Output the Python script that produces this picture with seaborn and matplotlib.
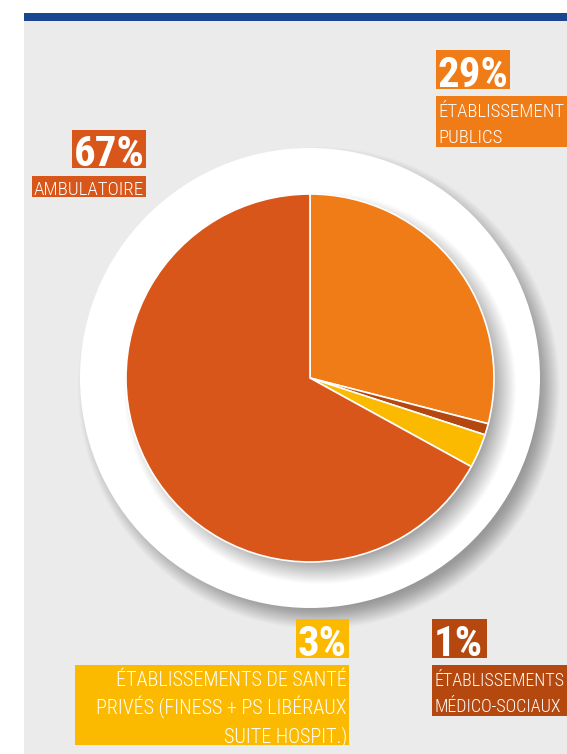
import matplotlib
matplotlib.use("Agg")
import matplotlib.pyplot as plt
from matplotlib.patches import Circle, Rectangle
from matplotlib import font_manager
import seaborn as sns

# Répartition par secteur (en %)
categories = ["Établissements publics", "Établissements médico-sociaux",
              "Établissements de santé privés", "Ambulatoire"]
shares = [29, 1, 3, 67]
pct_labels = ["29%", "1%", "3%", "67%"]
desc_labels = [
    ["ÉTABLISSEMENT", "PUBLICS"],
    ["ÉTABLISSEMENTS", "MÉDICO-SOCIAUX"],
    ["ÉTABLISSEMENTS DE SANTÉ", "PRIVÉS (FINESS + PS LIBÉRAUX", "SUITE HOSPIT.)"],
    ["AMBULATOIRE"],
]
slice_colors = ["#f07c17", "#b5480f", "#fbb900", "#d9561a"]

sns.set_theme(style="white")
palette = sns.color_palette(slice_colors)

available = {f.name for f in font_manager.fontManager.ttflist}
family = "DejaVu Sans"
for cand in ["Roboto Condensed", "Liberation Sans Narrow", "Open Sans Condensed"]:
    if cand in available:
        family = cand
        break
plt.rcParams["font.family"] = [family, "DejaVu Sans"]

W, H = 567, 754
fig = plt.figure(figsize=(W / 100, H / 100), dpi=100)
fig.patch.set_facecolor("white")
ax = fig.add_axes([0, 0, 1, 1])


def Y(yp):
    """Convert a top-down pixel row to the axes' upward coordinate."""
    return H - yp


# panel background and top rule
ax.add_patch(Rectangle((24, 0), W - 24, Y(21), color="#ebebeb", lw=0, zorder=0))
ax.add_patch(Rectangle((24, Y(21)), W - 24, 8, color="#1a4690", lw=0, zorder=1))


def soft_shadow(cx, cy, r, blur, peak, z, n=30):
    a = 1 - (1 - peak) ** (1.0 / n)
    for i in range(n):
        rr = r + blur * (1 - 2.0 * i / n)
        ax.add_patch(Circle((cx, cy), rr, color="black", alpha=a, lw=0, zorder=z))


cx, cy = 310, Y(378)
ring_r, pie_r = 230, 184

# white disc with drop shadow
soft_shadow(cx + 9, cy - 10, ring_r, 11, 0.27, 2)
ax.add_patch(Circle((cx, cy), ring_r, color="white", lw=0, zorder=3))
# shadow cast by the pie onto the ring
soft_shadow(cx + 10, cy - 10, pie_r, 12, 0.26, 4)

wedges, _ = ax.pie(
    shares, colors=palette, startangle=90, counterclock=False,
    center=(cx, cy), radius=pie_r,
    wedgeprops=dict(edgecolor="white", linewidth=1.2),
)
for w in wedges:
    w.set_zorder(5)

ax.set_xlim(0, W)
ax.set_ylim(0, H)
ax.set_aspect("equal")
ax.axis("off")

# font sizes fitted to the label boxes
fig.canvas.draw()
renderer = fig.canvas.get_renderer()


def text_width(s, size, weight):
    t = ax.text(0, 0, s, fontsize=size, fontweight=weight)
    w = t.get_window_extent(renderer).width
    t.remove()
    return w


def fit(s, width, weight):
    return 20 * width / text_width(s, 20, weight)


pct_size = fit("29%", 71, "bold")
desc_weight = "light"

# label layout: percent box, description box, baselines, alignment, fitted line
layouts = [
    dict(pbox=(436, 50, 510, 89), pbase=87, dbox=(436, 96, 567, 147),
         dbases=[117, 143], align="left", ref=("ÉTABLISSEMENT", 126)),
    dict(pbox=(432, 619, 487, 658), pbase=656, dbox=(432, 665, 567, 716),
         dbases=[686, 712], align="left", ref=("ÉTABLISSEMENTS", 130)),
    dict(pbox=(296, 619, 349, 658), pbase=656, dbox=(75, 665, 349, 745),
         dbases=[686, 714, 742], align="right",
         ref=("PRIVÉS (FINESS + PS LIBÉRAUX", 251)),
    dict(pbox=(72, 130, 146, 168), pbase=166, dbox=(32, 176, 146, 197),
         dbases=[195], align="right", ref=("AMBULATOIRE", 111)),
]

for pct, lines, col, lay in zip(pct_labels, desc_labels, palette, layouts):
    x0, y0, x1, y1 = lay["pbox"]
    ax.add_patch(Rectangle((x0, Y(y1)), x1 - x0, y1 - y0, color=col, lw=0, zorder=8))
    ax.text(x0 + 1.5, Y(lay["pbase"]), pct, color="white", fontsize=pct_size,
            fontweight="bold", ha="left", va="baseline", zorder=9)
    x0, y0, x1, y1 = lay["dbox"]
    ax.add_patch(Rectangle((x0, Y(y1)), x1 - x0, y1 - y0, color=col, lw=0, zorder=8))
    size = fit(*lay["ref"], desc_weight)
    tx = x0 + 2 if lay["align"] == "left" else x1 - 2
    for line, b in zip(lines, lay["dbases"]):
        ax.text(tx, Y(b), line, color="white", fontsize=size, fontweight=desc_weight,
                ha=lay["align"], va="baseline", zorder=9)

fig.savefig("out.png", dpi=100, facecolor="white")
